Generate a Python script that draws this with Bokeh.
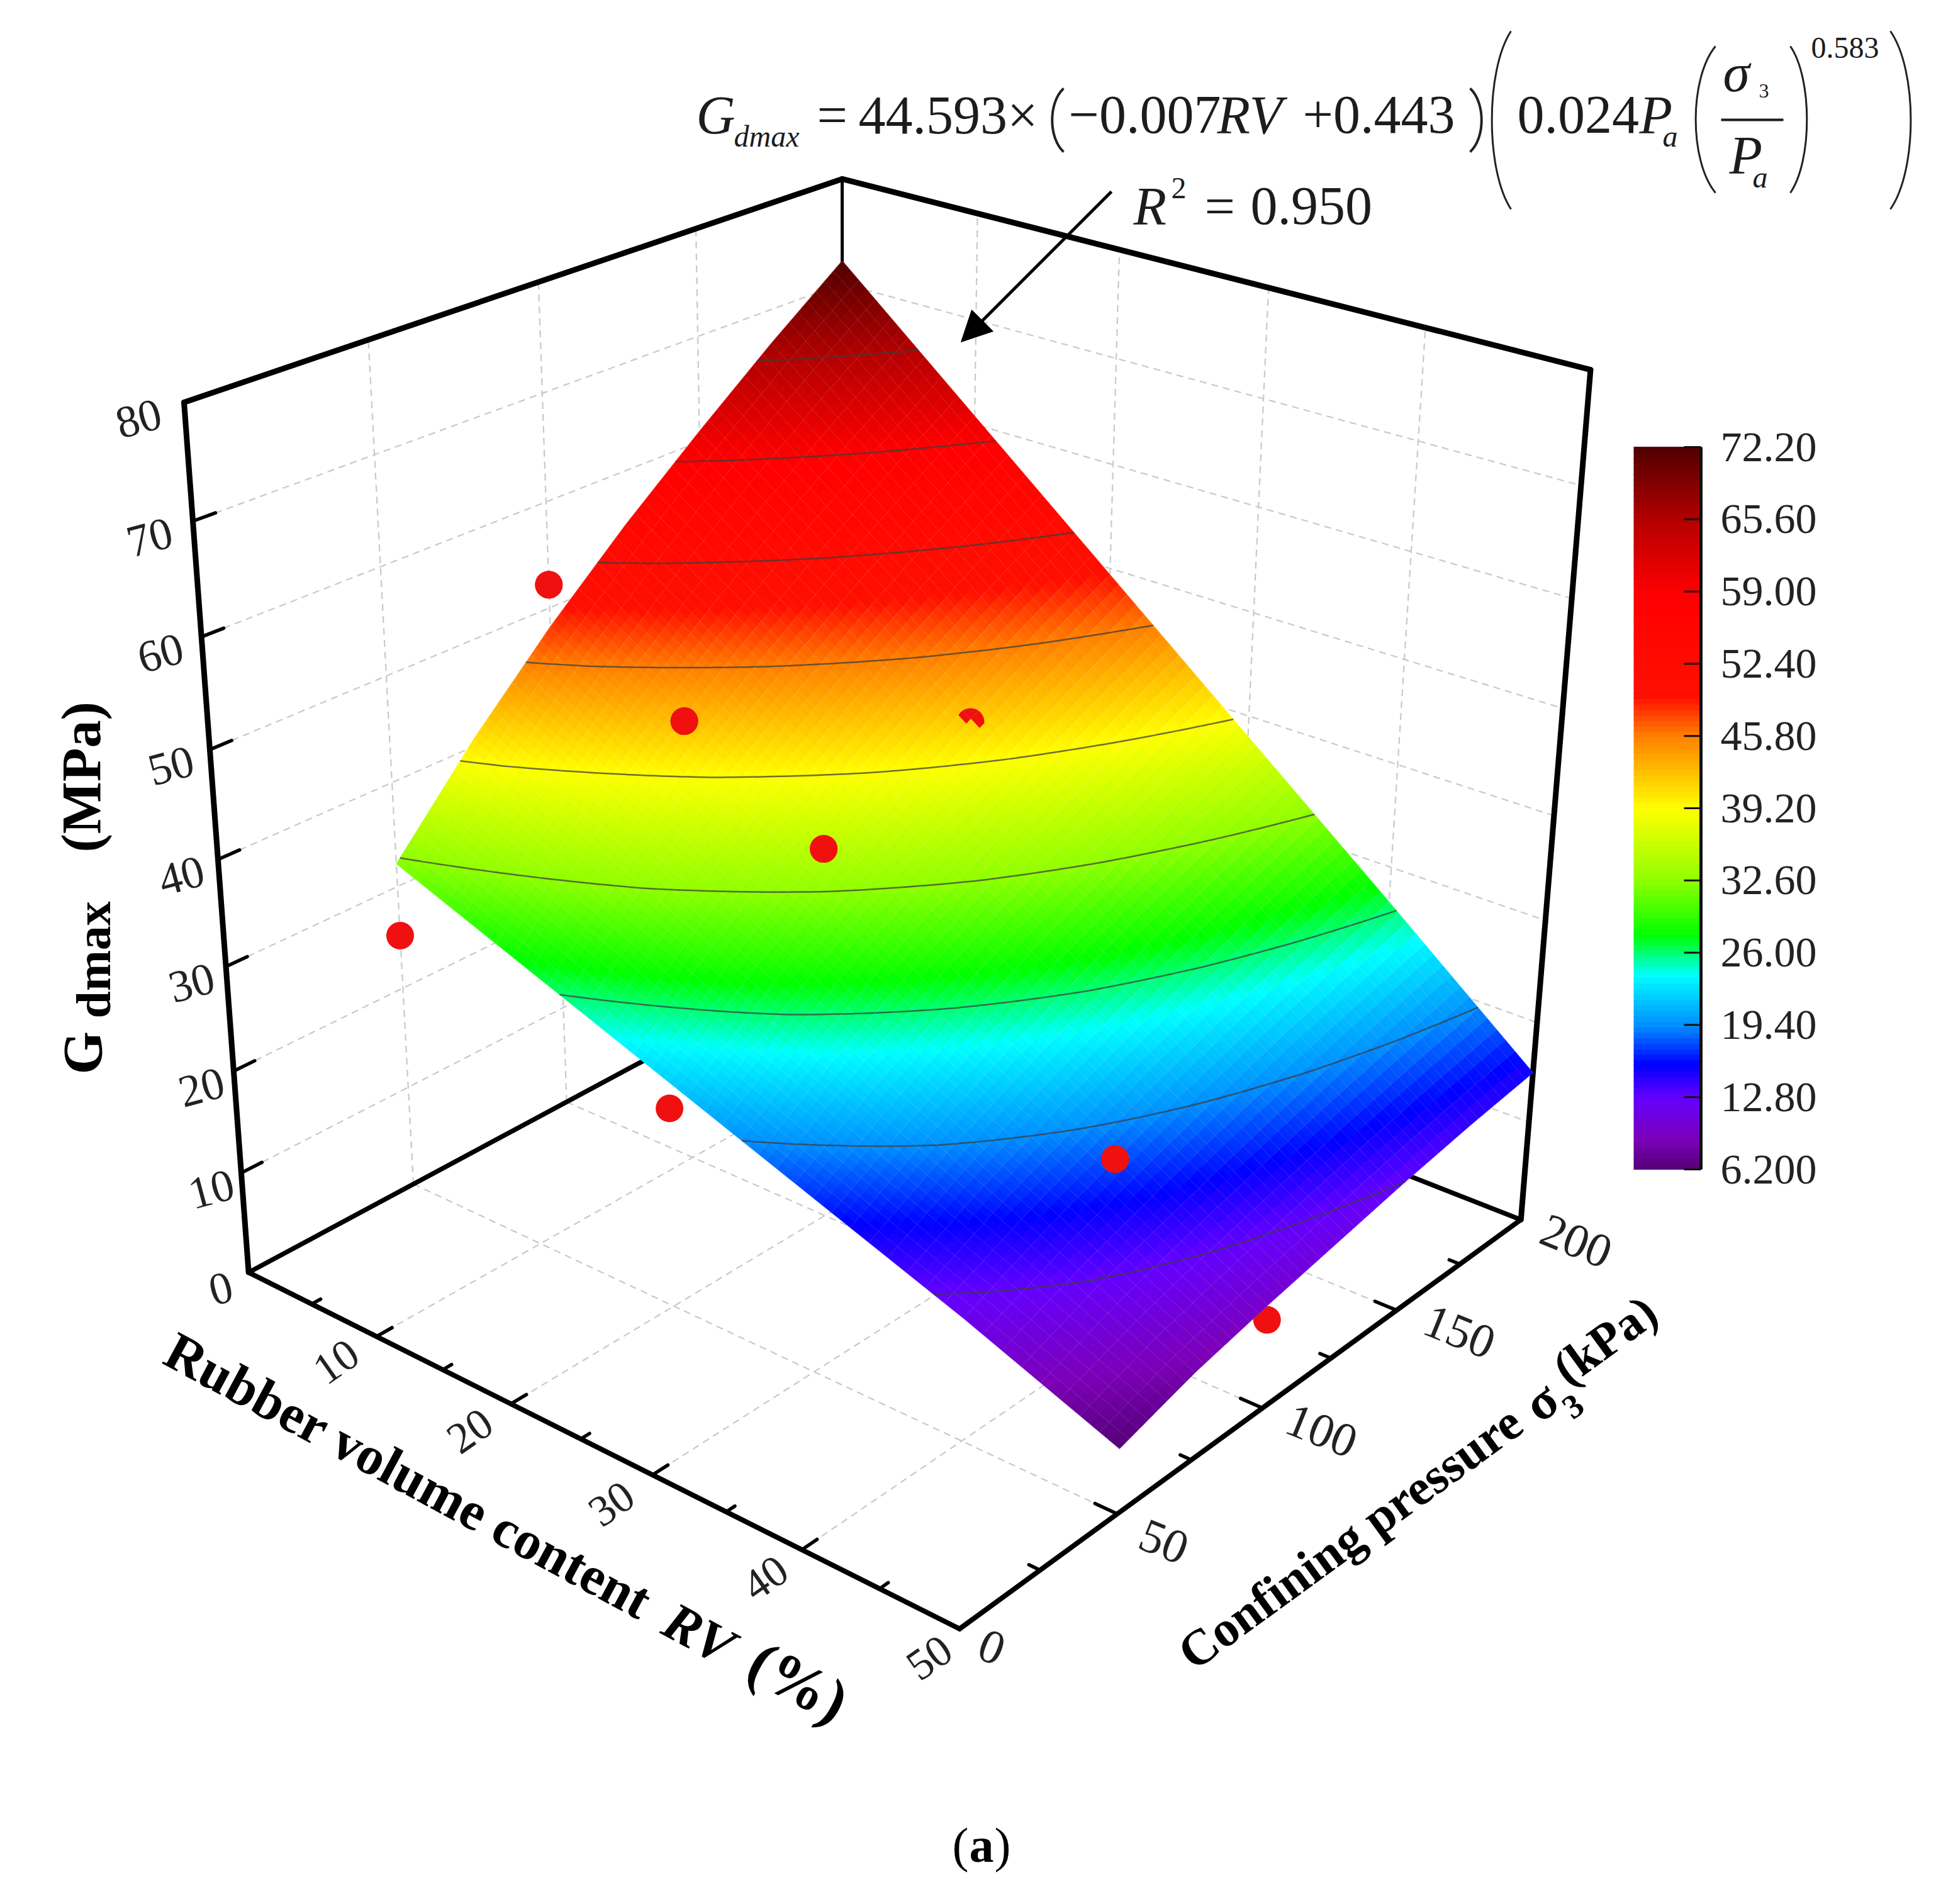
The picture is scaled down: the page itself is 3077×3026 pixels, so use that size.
import numpy as np
from bokeh.plotting import figure
from bokeh.models import Range1d, Arrow, NormalHead
from bokeh.core.properties import value
from bokeh.embed import file_html
from bokeh.resources import INLINE

# ---- data
rv_ticks = [0, 10, 20, 30, 40, 50]
sigma_ticks = [0, 50, 100, 150, 200]
g_ticks = [0, 10, 20, 30, 40, 50, 60, 70, 80]
surf_rv = [0, 10, 20, 30, 40, 50]
surf_sigma = [50, 75, 100, 125, 150, 175, 200]
surf_g = [
    [32.2, 40.7, 48.2, 54.9, 61.0, 66.8, 72.2],
    [27.1, 34.3, 40.6, 46.2, 51.4, 56.2, 60.8],
    [22.0, 27.9, 33.0, 37.6, 41.8, 45.7, 49.4],
    [16.9, 21.4, 25.3, 28.9, 32.1, 35.1, 38.0],
    [11.8, 15.0, 17.7, 20.2, 22.5, 24.6, 26.6],
    [6.2, 8.4, 10.0, 11.4, 12.8, 14.0, 15.0],
]
levels = [12.8, 19.4, 26.0, 32.6, 39.2, 45.8, 52.4, 59.0, 65.6]
cb_ticks = [6.2, 12.8, 19.4, 26.0, 32.6, 39.2, 45.8, 52.4, 59.0, 65.6, 72.2]
cb_labels = ["6.200", "12.80", "19.40", "26.00", "32.60", "39.20", "45.80", "52.40", "59.00", "65.60", "72.20"]
cm_vals = [6.2, 9.0, 12.8, 15.8, 19.4, 24.0, 27.6, 32.6, 39.2, 45.8, 49.4, 59.0, 65.6, 72.2]
cm_r = [85, 125, 100, 0, 0, 0, 0, 144, 255, 255, 255, 255, 180, 80]
cm_g = [0, 0, 0, 0, 144, 255, 255, 255, 255, 128, 16, 0, 0, 0]
cm_b = [120, 185, 255, 255, 255, 255, 0, 0, 0, 0, 0, 0, 0, 0]
dot_rv = [0, 10, 10, 20, 0, 20, 40, 50]
dot_sigma = [100, 100, 200, 100, 50, 50, 100, 100]
dot_g = [52.2, 43.7, 30.1, 36.4, 25.2, 19.5, 17.8, 8.6]

# calibration of the view: (RV, sigma, G) -> picture position
calib = [
    (0, 0, 0, 393, 2026), (0, 0, 80, 294, 643), (50, 0, 0, 1523, 2595), (50, 200, 0, 2421, 1938),
    (0, 200, 80, 1342, 285), (50, 200, 80, 2527, 585), (0, 200, 0, 1336, 1519),
    (10, 0, 0, 606, 2121), (20, 0, 0, 818, 2230), (30, 0, 0, 1042, 2345), (40, 0, 0, 1278, 2463),
    (50, 50, 0, 1765, 2406), (50, 100, 0, 2005, 2236), (50, 150, 0, 2217, 2078),
    (0, 0, 10, 381, 1858), (0, 0, 20, 368, 1700), (0, 0, 30, 356, 1533), (0, 0, 40, 343, 1365),
    (0, 0, 50, 331, 1188), (0, 0, 60, 318, 1011), (0, 0, 70, 306, 830),
]
A = []
for a, b, c, u, v in calib:
    a, b, c = a / 50, b / 200, c / 80
    A.append([a, b, c, 1, 0, 0, 0, 0, -u * a, -u * b, -u * c, -u])
    A.append([0, 0, 0, 0, a, b, c, 1, -v * a, -v * b, -v * c, -v])
H = np.linalg.svd(np.array(A, float))[2][-1].reshape(3, 4)
H = H / H[2, 3]


def proj(rv, s, g):
    rv, s, g = np.asarray(rv, float) / 50, np.asarray(s, float) / 200, np.asarray(g, float) / 80
    w = H[2, 0] * rv + H[2, 1] * s + H[2, 2] * g + H[2, 3]
    return ((H[0, 0] * rv + H[0, 1] * s + H[0, 2] * g + H[0, 3]) / w,
            (H[1, 0] * rv + H[1, 1] * s + H[1, 2] * g + H[1, 3]) / w)


def cmap(z):
    return (np.interp(z, cm_vals, cm_r), np.interp(z, cm_vals, cm_g), np.interp(z, cm_vals, cm_b))


def hexes(z):
    r, g, b = cmap(np.asarray(z))
    return ["#%02x%02x%02x" % (int(i), int(j), int(k)) for i, j, k in zip(r, g, b)]


p = figure(width=3061, height=3010, x_range=Range1d(0, 3061), y_range=Range1d(3010, 0),
           output_backend="svg", toolbar_location=None, min_border=0)
p.axis.visible = False
p.grid.visible = False
p.outline_line_color = None


def seg3(list3, color="black", width=5, dash="solid", alpha=1.0):
    a = np.array(list3, float)
    x0, y0 = proj(a[:, 0], a[:, 1], a[:, 2])
    x1, y1 = proj(a[:, 3], a[:, 4], a[:, 5])
    p.segment(x0, y0, x1, y1, line_color=color, line_width=width, line_dash=dash, line_alpha=alpha, line_cap="round" if dash == "solid" else "butt")


KB = 0.36


def txt(x, y, s, size, style="normal", angle=0, align="left", base="alphabetic", color="black"):
    if base == "alphabetic":
        th = np.radians(angle)
        x = x - KB * size * np.sin(th)
        y = y - KB * size * np.cos(th)
    p.text([x], [y], text=[s], text_font=value("Liberation Serif"), text_font_size=f"{size}px",
           text_font_style=style, angle=angle, angle_units="deg", text_align=align, text_baseline=base, text_color=color)


# grid
gc = "#c9c9c9"
g = []
for r in rv_ticks[1:-1]:
    g += [(r, 0, 0, r, 200, 0), (r, 200, 0, r, 200, 80)]
for s in sigma_ticks[1:-1]:
    g += [(0, s, 0, 50, s, 0), (0, s, 0, 0, s, 80)]
for z in g_ticks[1:-1]:
    g += [(0, 0, z, 0, 200, z), (0, 200, z, 50, 200, z)]
seg3(g, gc, 2.2, "11 8")

# box
seg3([(0, 0, 80, 0, 200, 80), (0, 200, 80, 50, 200, 80), (0, 0, 0, 0, 0, 80), (50, 200, 0, 50, 200, 80)], "black", 9)
seg3([(0, 0, 0, 0, 200, 0), (0, 200, 0, 50, 200, 0)], "black", 7.5)
seg3([(0, 200, 0, 0, 200, 80)], "black", 5)
seg3([(0, 0, 0, 50, 0, 0), (50, 0, 0, 50, 200, 0)], "black", 8)
# ticks
t = []
for r in rv_ticks[1:5]:
    t += [(r, 0, 0, r, 4.6, 0)]
for r in [5, 15, 25, 35, 45]:
    t += [(r, 0, 0, r, 2.6, 0)]
for s in sigma_ticks[1:4]:
    t += [(50, s, 0, 48.6, s, 0)]
for s in [25, 75, 125, 175]:
    t += [(50, s, 0, 49.3, s, 0)]
for z in g_ticks[1:-1]:
    t += [(0, 0, z, 0, 6, z)]
seg3(t, "black", 5.5)

# fine surface
Nr, Ns = 80, 96
rf = np.linspace(0, 50, Nr + 1)
sf = np.linspace(50, 200, Ns + 1)
tmp = np.array([np.interp(sf, surf_sigma, row) for row in surf_g])
Z = np.array([np.interp(rf, surf_rv, tmp[:, j]) for j in range(len(sf))]).T
RR, SS = np.meshgrid(rf, sf, indexing="ij")
X, Y = proj(RR, SS, Z)


def surf_at(r, s):
    return np.interp(r, surf_rv, [np.interp(s, surf_sigma, row) for row in surf_g])


beh = [i for i in range(len(dot_g)) if dot_g[i] < surf_at(dot_rv[i], dot_sigma[i]) and dot_sigma[i] != 200]
pierce = [i for i in range(len(dot_g)) if dot_sigma[i] == 200]
fr = [i for i in range(len(dot_g)) if i not in beh]
dx, dy = proj(dot_rv, dot_sigma, dot_g)
dot_size = 44
p.scatter(dx[beh], dy[beh], size=dot_size, color="#f01010", line_color=None)

xs, ys, zs = [], [], []
for i in range(Nr):
    for j in range(Ns):
        xs.append([X[i, j], X[i + 1, j], X[i + 1, j + 1], X[i, j + 1]])
        ys.append([Y[i, j], Y[i + 1, j], Y[i + 1, j + 1], Y[i, j + 1]])
        zs.append((Z[i, j] + Z[i + 1, j] + Z[i, j + 1] + Z[i + 1, j + 1]) / 4)
cols = hexes(zs)
p.patches(xs, ys, fill_color=cols, line_color=cols, line_width=1)

p.scatter(dx[fr], dy[fr], size=dot_size, color="#f01010", line_color=None)
# the dot that pierces the surface: the surface closes over its lower part
cx, cy = float(dx[pierce[0]]), float(dy[pierce[0]])
ox, oy, oc = [], [], []
for k in range(len(xs)):
    mx, my = np.mean(xs[k]), np.mean(ys[k])
    if abs(mx - cx) < 50 and abs(my - cy) < 50 and (my - cy) > 2 + (mx - cx) * 0.4:
        ox.append(xs[k]); oy.append(ys[k]); oc.append(cols[k])
p.patches(ox, oy, fill_color=oc, line_color=oc, line_width=1)

# faint mesh of the surface
mx = [list(X[i, :]) for i in range(0, Nr + 1, 2)] + [list(X[:, j]) for j in range(0, Ns + 1, 2)]
my = [list(Y[i, :]) for i in range(0, Nr + 1, 2)] + [list(Y[:, j]) for j in range(0, Ns + 1, 2)]
p.multi_line(mx, my, line_color="white", line_width=1, line_alpha=0.13)

# contours
sx0, sy0, sx1, sy1 = [], [], [], []
for lv in levels:
    lv2 = lv + 1e-6
    for i in range(Nr):
        for j in range(Ns):
            c = [(i, j), (i + 1, j), (i + 1, j + 1), (i, j + 1)]
            pts = []
            for k in range(4):
                a, b = c[k], c[(k + 1) % 4]
                za, zb = Z[a], Z[b]
                if (za - lv2) * (zb - lv2) < 0:
                    f = (lv2 - za) / (zb - za)
                    pts.append((X[a] + f * (X[b] - X[a]), Y[a] + f * (Y[b] - Y[a])))
            if len(pts) == 2:
                sx0.append(pts[0][0]); sy0.append(pts[0][1]); sx1.append(pts[1][0]); sy1.append(pts[1][1])
p.segment(sx0, sy0, sx1, sy1, line_color="#3c3c3c", line_width=2.5, line_alpha=0.75)

# front dots painted again above contours and mesh where whole
keep = [i for i in fr if i not in pierce]
p.scatter(dx[keep], dy[keep], size=dot_size, color="#f01010", line_color=None)

# tick labels
for z in g_ticks:
    x, y = proj(0, 0, z)
    txt(float(x) - 44 - 28 * z / 80, float(y) + 26, str(z), 72, angle=15, align="center", base="middle", color="#222222")
rv_off = {10: (-64, 40), 20: (-65, 43), 30: (-65, 46), 40: (-58, 45), 50: (-48, 46)}
for r in rv_ticks[1:]:
    x, y = proj(r, 0, 0)
    txt(float(x) + rv_off[r][0], float(y) + rv_off[r][1], str(r), 70, angle=35, align="center", base="middle", color="#222222")
sig_off = {0: (51, 29), 50: (74, 44), 100: (94, 36), 150: (100, 34), 200: (88, 34)}
for s in sigma_ticks:
    x, y = proj(50, s, 0)
    txt(float(x) + sig_off[s][0], float(y) + sig_off[s][1], str(s), 76, angle=-22, align="center", base="middle", color="#222222")

# axis titles
txt(254, 2167, "Rubber volume content ", 86, "bold", angle=-28.3)
txt(1046, 2596, "RV", 86, "bold italic", angle=-28.3)
txt(1180, 2665, "(%)", 98, "bold", angle=-28.3)
txt(1898, 2658, "Confining pressure", 80, "bold", angle=36)
txt(2448, 2264, "\u03c3", 83, "bold", angle=36)
txt(2500, 2258, "3", 54, "bold", angle=36)
txt(2493, 2205, "(kPa)", 78, "bold", angle=36)
txt(163, 1707, "G", 88, "bold", angle=90)
txt(176, 1618, "dmax", 78, "bold", angle=90)
txt(161, 1354, "(MPa)", 88, "bold", angle=90)

# colour bar
cb_v = np.linspace(6.2, 72.2, 133)
cb_y = lambda v: 1858 - (np.asarray(v) - 6.2) / 66 * 1148
p.quad(left=2596, right=2703, top=cb_y(cb_v[1:]) - 0.5, bottom=cb_y(cb_v[:-1]) + 0.5, fill_color=hexes((cb_v[1:] + cb_v[:-1]) / 2), line_color=None)
p.segment([2703], [710], [2703], [1858], line_color="#111111", line_width=5)
p.segment([2676] * 11, cb_y(cb_ticks), [2703] * 11, cb_y(cb_ticks), line_color="#111111", line_width=3)
for v, l in zip(cb_ticks, cb_labels):
    txt(2734, float(cb_y(v)), l, 68, base="middle", color="#222222")


# equation
def paren(xm, xt, y0, y1, w=3.0):
    p.bezier([xt], [y0], [xt], [y1], [xm - (xt - xm) * 0.35], [y0 + (y1 - y0) * 0.22], [xm - (xt - xm) * 0.35], [y0 + (y1 - y0) * 0.78], line_color="#222222", line_width=w)


ec = "#1c1c1c"
txt(1106, 213, "G", 86, "italic", color=ec)
txt(1166, 233, "dmax", 48, "italic", color=ec)
txt(1298, 213, "=", 86, color=ec)
txt(1364, 213, "44.593\u00d7", 86, color=ec)
paren(1672, 1690, 140, 241, 4)
txt(1698, 213, "\u22120.007", 86, color=ec)
txt(1934, 213, "RV", 86, "italic", color=ec)
txt(2070, 213, "+0.443", 86, color=ec)
paren(2354, 2336, 140, 241, 4)
paren(2371, 2401, 49, 332)
txt(2411, 213, "0.024", 86, color=ec)
txt(2605, 213, "P", 86, "italic", color=ec)
txt(2642, 233, "a", 48, "italic", color=ec)
paren(2695, 2726, 73, 306)
txt(2738, 146, "\u03c3", 86, "italic", color=ec)
txt(2795, 156, "3", 32, color=ec)
p.segment([2735], [190], [2834], [190], line_color=ec, line_width=4)
txt(2748, 277, "P", 86, "italic", color=ec)
txt(2785, 298, "a", 48, "italic", color=ec)
paren(2871, 2845, 73, 306)
txt(2878, 93, "0.583", 48, color=ec)
paren(3036, 3004, 49, 332)
txt(1801, 358, "R", 86, "italic", color=ec)
txt(1861, 316, "2", 48, color=ec)
txt(1914, 358, "=", 86, color=ec)
txt(1987, 358, "0.950", 86, color=ec)

p.add_layout(Arrow(end=NormalHead(size=48, fill_color="black", line_color="black"), x_start=1766, y_start=304, x_end=1527, y_end=543, line_color="black", line_width=5))

txt(1513, 2960, "(", 78)
txt(1540, 2960, "a", 78, "bold")
txt(1580, 2960, ")", 78)

open("out.html", "w").write(file_html(p, INLINE))
